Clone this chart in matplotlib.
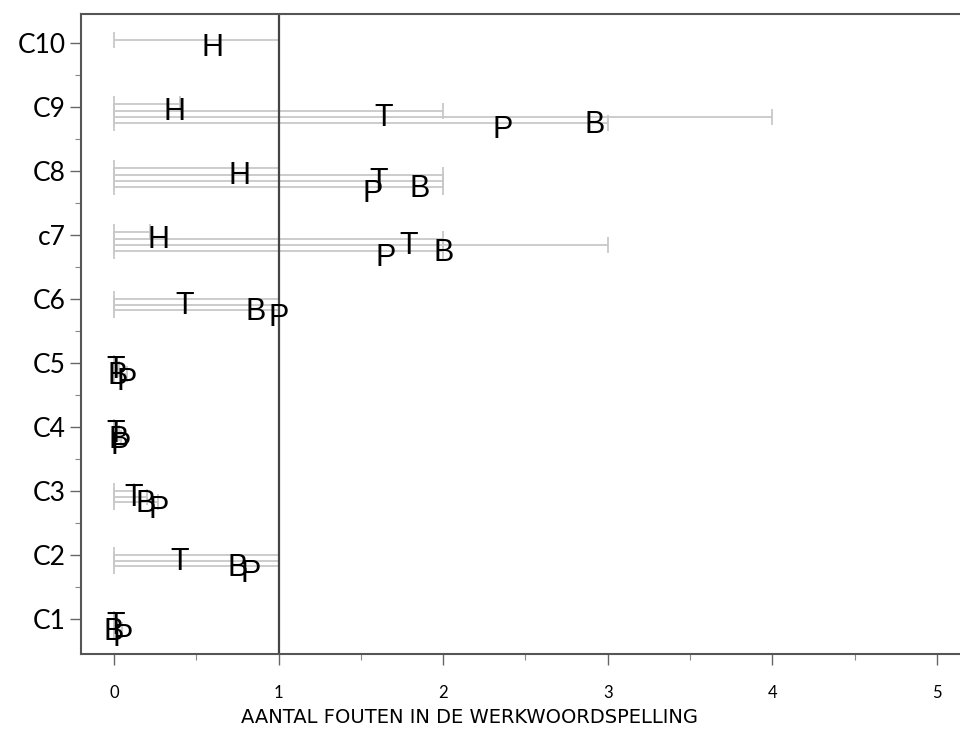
import numpy as np
import matplotlib
matplotlib.use('Agg')
import matplotlib.pyplot as plt
from matplotlib.transforms import offset_copy

nan = np.nan

# categorieen (onder naar boven)
categories = ['C1', 'C2', 'C3', 'C4', 'C5', 'C6', 'c7', 'C8', 'C9', 'C10']

# gemiddelde en maximum per groep (H, T, B, P)
h_mean = [nan, nan, nan, nan, nan, nan, 0.27, 0.76, 0.37, 0.60]
h_max = [nan, nan, nan, nan, nan, nan, 0.22, 1.0, 0.40, 1.0]
t_mean = [0.01, 0.40, 0.12, 0.01, 0.01, 0.43, 1.79, 1.61, 1.64, nan]
t_max = [0.0, 1.0, 0.12, 0.0, 0.0, 1.0, 2.0, 2.0, 2.0, nan]
b_mean = [0.0, 0.75, 0.19, 0.03, 0.02, 0.86, 2.0, 1.86, 2.92, nan]
b_max = [0.0, 1.0, 0.20, 0.03, 0.03, 1.0, 3.0, 2.0, 4.0, nan]
p_mean = [0.05, 0.83, 0.27, 0.04, 0.08, 1.0, 1.65, 1.57, 2.36, nan]
p_max = [0.05, 1.0, 0.27, 0.04, 0.08, 1.0, 2.0, 2.0, 3.0, nan]

series = [('H', h_mean, h_max), ('T', t_mean, t_max),
          ('B', b_mean, b_max), ('P', p_mean, p_max)]

# verticale verschuiving per groep (data-eenheden)
offsets_h = {'H': 0.04, 'T': -0.06, 'B': -0.16, 'P': -0.25}
offsets_noh = {'T': 0.0, 'B': -0.09, 'P': -0.18}
letter_drop = 0.07

fig = plt.figure(figsize=(9.6, 7.31), dpi=100)
ax = fig.add_axes([0.0844, 0.1053, 0.9156, 0.8755])

ypos = np.arange(1, len(categories) + 1)

letter_tr = offset_copy(ax.transData, fig=fig, x=0, y=-7.9, units='points')

for name, means, maxes in series:
    for i, (m, mx) in enumerate(zip(means, maxes)):
        if np.isnan(m):
            continue
        off = offsets_h[name] if not np.isnan(h_mean[i]) else offsets_noh[name]
        y = ypos[i] + off
        ax.errorbar(mx / 2, y, xerr=mx / 2, fmt='none', ecolor='#c8c8c8',
                    elinewidth=1.3, capsize=5.5, capthick=1.3, zorder=1)
        ax.text(m, y - letter_drop, name, transform=letter_tr, ha='center',
                va='baseline', fontsize=22, family='Liberation Sans',
                color='black', zorder=3)

ax.axvline(1, color='#444444', lw=1.6, zorder=2)

ax.set_xlim(-0.2, 5.14)
ax.set_ylim(0.45, 10.45)
ax.set_xticks(range(0, 6))
ax.set_xticks(np.arange(0.5, 5, 1.0), minor=True)
ax.set_yticks(ypos)
ax.set_yticks(np.arange(1.5, 10, 1.0), minor=True)
ax.set_yticklabels(categories, family='Lato', fontsize=19)
ax.set_xticklabels([str(v) for v in range(0, 6)], family='Lato', fontsize=12)

for side in ['left', 'bottom', 'top']:
    ax.spines[side].set_color('#555555')
    ax.spines[side].set_linewidth(1.5)
ax.spines['right'].set_visible(False)

ax.tick_params(axis='both', which='major', direction='out', color='#666666',
               width=1.0)
ax.tick_params(axis='x', which='major', length=8, pad=14)
ax.tick_params(axis='y', which='major', length=8, pad=3)
ax.tick_params(axis='both', which='minor', length=4, color='#888888', width=0.8)

ax.set_xlabel('AANTAL FOUTEN IN DE WERKWOORDSPELLING',
              family='DejaVu Sans', fontsize=14)
ax.xaxis.set_label_coords(0.4425, -0.085)

plt.savefig('out.png', dpi=100)
